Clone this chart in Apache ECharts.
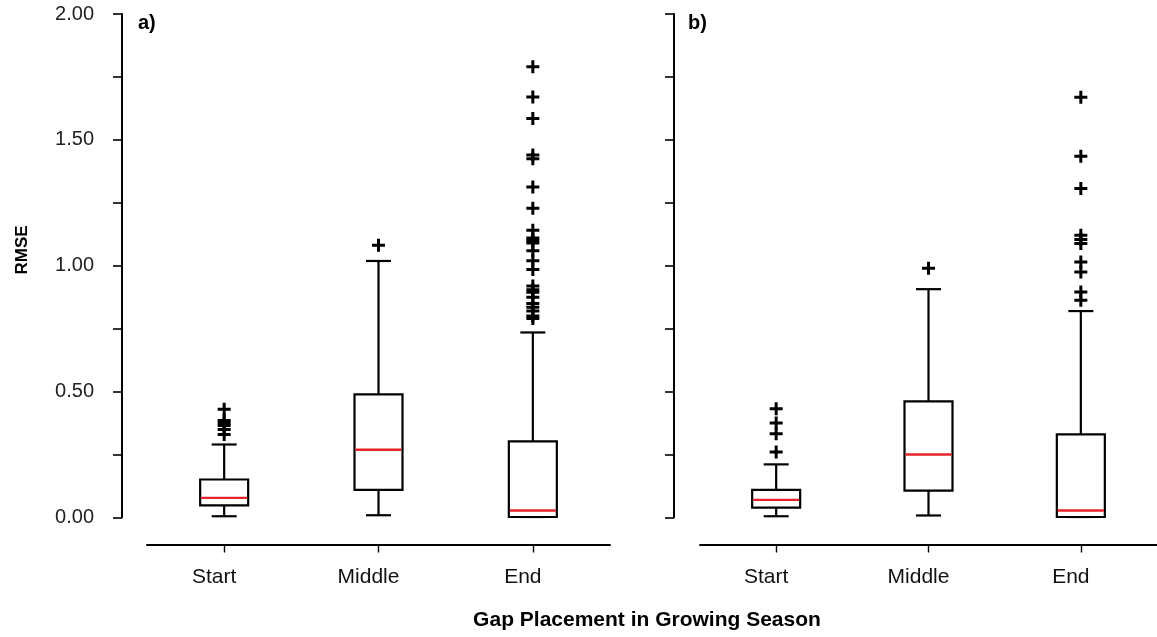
<!DOCTYPE html>
<html>
<head>
<meta charset="utf-8">
<script src="https://cdn.jsdelivr.net/npm/echarts@6/dist/echarts.min.js"></script>
<style>
html,body{margin:0;padding:0;background:#fff;}
#chart{width:1157px;height:637px;}
</style>
</head>
<body>
<div id="chart"></div>
<script>
// ---- data ----
const categories = ['Start', 'Middle', 'End'];
// [lower whisker, Q1, median, Q3, upper whisker]
const boxA = [
  [0.005, 0.048, 0.078, 0.151, 0.290],
  [0.009, 0.110, 0.269, 0.489, 1.019],
  [0.002, 0.002, 0.028, 0.302, 0.735]
];
const boxB = [
  [0.005, 0.039, 0.070, 0.110, 0.211],
  [0.008, 0.107, 0.250, 0.461, 0.907],
  [0.002, 0.002, 0.028, 0.330, 0.820]
];
const outA_start = [0.43, 0.385, 0.375, 0.365, 0.35, 0.33];
const outA_middle = [1.081];
const outA_end = [1.79, 1.67, 1.585, 1.44, 1.425, 1.313, 1.228, 1.141, 1.11, 1.10, 1.09, 1.06, 1.02, 0.985, 0.92, 0.905, 0.895, 0.875, 0.85, 0.835, 0.82, 0.80, 0.79];
const outB_start = [0.432, 0.375, 0.333, 0.26];
const outB_middle = [0.99];
const outB_end = [1.669, 1.435, 1.307, 1.121, 1.104, 1.088, 1.015, 0.975, 0.896, 0.863];
const yTickValues = [0, 0.5, 1.0, 1.5, 2.0];

// ---- build ----
function boxData(b) { return b.map((r, i) => [i].concat(r)); }
function outData(lists) {
  const d = [];
  lists.forEach((l, i) => l.forEach(v => d.push([i, v])));
  return d;
}
const plusPath = 'path://M5,0H8V5H13V8H8V13H5V8H0V5H5Z';

function renderBox(params, api) {
  const i = api.value(0);
  const pMin = api.coord([i, api.value(1)]);
  const pQ1 = api.coord([i, api.value(2)]);
  const pMed = api.coord([i, api.value(3)]);
  const pQ3 = api.coord([i, api.value(4)]);
  const pMax = api.coord([i, api.value(5)]);
  const cx = pMed[0];
  const bw = 48, cw = 25;
  const blk = {stroke: '#000', lineWidth: 2.2, fill: null};
  return {
    type: 'group',
    children: [
      {type: 'line', shape: {x1: cx, y1: pMin[1], x2: cx, y2: pQ1[1]}, style: blk},
      {type: 'line', shape: {x1: cx, y1: pQ3[1], x2: cx, y2: pMax[1]}, style: blk},
      {type: 'line', shape: {x1: cx - cw / 2, y1: pMin[1], x2: cx + cw / 2, y2: pMin[1]}, style: blk},
      {type: 'line', shape: {x1: cx - cw / 2, y1: pMax[1], x2: cx + cw / 2, y2: pMax[1]}, style: blk},
      {type: 'rect', shape: {x: cx - bw / 2, y: pQ3[1], width: bw, height: pQ1[1] - pQ3[1]},
        style: {stroke: '#000', lineWidth: 2.2, fill: '#fff'}},
      {type: 'line', shape: {x1: cx - bw / 2 + 1, y1: pMed[1], x2: cx + bw / 2 - 1, y2: pMed[1]},
        style: {stroke: '#e8222a', lineWidth: 2.4}}
    ]
  };
}

const font = "'Liberation Sans', Arial, sans-serif";

function yAxisCfg(gi, showLabels) {
  return {
    type: 'value', gridIndex: gi, min: 0, max: 2, interval: 0.25, offset: gi === 0 ? 25 : 26,
    axisLine: {show: true, onZero: false, lineStyle: {color: '#000', width: 2}},
    axisTick: {show: true, length: 9, lineStyle: {color: '#000', width: 1.6}},
    axisLabel: {
      show: showLabels, margin: 28, color: '#222', fontSize: 20, fontFamily: font,
      formatter: v => yTickValues.some(t => Math.abs(t - v) < 1e-6) ? v.toFixed(2) : ''
    },
    splitLine: {show: false}
  };
}
function xAxisCfg(gi) {
  return {
    type: 'category', gridIndex: gi, data: categories, boundaryGap: true, offset: 27,
    axisLine: {show: true, onZero: false, lineStyle: {color: '#000', width: 2}},
    axisTick: {show: true, alignWithLabel: true, length: 8, lineStyle: {color: '#000', width: 1.4}},
    axisLabel: {margin: 22, color: '#111', fontSize: 21, fontFamily: font, padding: [0, 20, 0, 0]},
    splitLine: {show: false}
  };
}

const chart = echarts.init(document.getElementById('chart'), null, {renderer: 'canvas'});
chart.setOption({
  animation: false,
  backgroundColor: '#fff',
  grid: [
    {left: 147, top: 14, width: 463, height: 503.5},
    {left: 700, top: 14, width: 462, height: 503.5}
  ],
  xAxis: [xAxisCfg(0), xAxisCfg(1)],
  yAxis: [yAxisCfg(0, true), yAxisCfg(1, false)],
  series: [
    {type: 'custom', xAxisIndex: 0, yAxisIndex: 0, renderItem: renderBox, data: boxData(boxA), z: 2},
    {type: 'custom', xAxisIndex: 1, yAxisIndex: 1, renderItem: renderBox, data: boxData(boxB), z: 2},
    {type: 'scatter', xAxisIndex: 0, yAxisIndex: 0, symbol: plusPath, symbolSize: 13,
      itemStyle: {color: '#000', opacity: 1}, data: outData([outA_start, outA_middle, outA_end]), z: 3},
    {type: 'scatter', xAxisIndex: 1, yAxisIndex: 1, symbol: plusPath, symbolSize: 13,
      itemStyle: {color: '#000', opacity: 1}, data: outData([outB_start, outB_middle, outB_end]), z: 3}
  ],
  graphic: [
    {type: 'text', x: 138, y: 23, style: {text: 'a)', font: 'bold 20px ' + font, fill: '#000', verticalAlign: 'middle'}},
    {type: 'text', x: 688, y: 23, style: {text: 'b)', font: 'bold 20px ' + font, fill: '#000', verticalAlign: 'middle'}},
    {type: 'text', x: 22, y: 250, rotation: Math.PI / 2,
      style: {text: 'RMSE', font: 'bold 17px ' + font, fill: '#000', align: 'center', verticalAlign: 'middle'}},
    {type: 'text', x: 647, y: 620,
      style: {text: 'Gap Placement in Growing Season', font: 'bold 21px ' + font, fill: '#000', align: 'center', verticalAlign: 'middle'}}
  ]
});
</script>
</body>
</html>
